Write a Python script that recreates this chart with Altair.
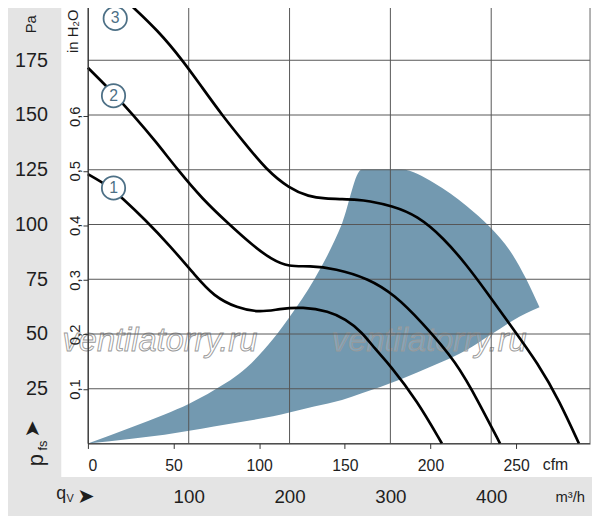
import altair as alt
import pandas as pd

# ---- data (x: air flow in m³/h, y: static pressure in Pa) ----
c1_q = [0, 20.5, 33.5, 56.4, 82.4, 106.6, 124.9, 147.7, 170.5, 190.0, 212.9, 238.9, 255.3, 271.9, 284.6,
        299.3, 326.7, 351.1]
c1_p = [123.0, 117.6, 112.3, 102.4, 89.8, 76.6, 67.2, 61.9, 59.8, 61.5, 62.4, 60.4, 56.8, 50.9, 43.2,
        36.0, 19.4, 0]
c2_q = [0, 22.5, 45.0, 67.5, 89.0, 113.4, 139.8, 162.3, 181.8, 199.5, 219.1, 245.5, 277.8, 304.2, 330.6, 365.8,
        389.2, 408.8]
c2_p = [171.6, 161.3, 150.0, 137.8, 125.0, 111.7, 100.2, 90.9, 84.1, 80.6, 81.2, 79.9, 75.4, 67.9, 55.7, 37.2,
        17.4, 0]
c3_q = [43.0, 69.4, 93.9, 113.4, 133.0, 154.5, 177.0, 199.5, 219.1, 235.7, 252.3, 268.0, 277.8, 301.2,
        326.7, 353.1, 375.6, 395.1, 414.7, 448.0, 467.5, 487.0]
c3_p = [200.0, 188.6, 175.0, 162.5, 150.0, 137.7, 125.0, 116.6, 112.7, 111.8, 111.6, 111.3, 110.8, 108.6,
        104.1, 93.7, 81.5, 69.4, 56.8, 35.6, 19.4, 0]

area_q = [0, 43.3, 76.0, 100.4, 124.9, 157.5, 183.6, 199.8, 224.3, 252.0, 271.6, 311.0, 343.3, 375.6, 399.0,
          421.5, 434.2, 447.9]
area_lo = [0, 2.2, 4.0, 5.8, 7.8, 10.3, 12.4, 14.2, 16.9, 19.9, 22.9, 29.5, 35.7, 42.7, 49.5, 56.2, 59.4, 62.2]
area_hi = [0, 7.4, 13.3, 18.2, 24.3, 34.7, 47.7, 57.7, 74.8, 100.3, 125.1, 125.1, 119.0, 108.5, 98.7, 86.0,
           75.6, 62.2]

lab_q = [25.4, 25.4, 27.1]
lab_p = [116.7, 158.8, 194.1]
lab_t = ["1", "2", "3"]

grid_q = [100, 200, 300, 400]
grid_p = [25, 50, 75, 100, 125, 150, 175]

pa_ticks = [25, 50, 75, 100, 125, 150, 175]
m3h_ticks = [100, 200, 300, 400]
cfm_ticks = [0, 50, 100, 150, 200, 250]
inh2o_ticks = [0.1, 0.2, 0.3, 0.4, 0.5, 0.6]

CFM = 1.69901      # m³/h per cfm
INH2O = 249.089    # Pa per inH2O

# ---- tables ----
rows = []
for name, qs, ps in (("1", c1_q, c1_p), ("2", c2_q, c2_p), ("3", c3_q, c3_p)):
    for q, p in zip(qs, ps):
        rows.append({"curve": name, "q": q, "p": p})
curves = pd.DataFrame(rows)
area_df = pd.DataFrame({"q": area_q, "lo": area_lo, "hi": area_hi})
labels = pd.DataFrame({"q": lab_q, "p": lab_p, "t": lab_t})
gq = pd.DataFrame({"q": grid_q})
gp = pd.DataFrame({"p": grid_p})
one = pd.DataFrame({"a": [0]})

FONT = "Liberation Sans, Arial, sans-serif"
TXT = "#1e1e1e"
W, H = 509, 444

sx = alt.Scale(domain=[0, 498], nice=False, zero=False)
sy = alt.Scale(domain=[0, 200], nice=False, zero=False)

white = alt.Chart(one).mark_rect(color="white").encode(
    x=alt.value(-27), x2=alt.value(W + 5), y=alt.value(-10), y2=alt.value(478))

area = alt.Chart(area_df).mark_area(color="#7399b0", interpolate="monotone").encode(
    x=alt.X("q:Q", scale=sx, axis=alt.Axis(
        orient="bottom", values=m3h_ticks, format="d", domain=False, ticks=False, grid=False,
        labelPadding=54, labelBaseline="middle", labelFont=FONT, labelFontSize=19,
        labelColor=TXT, title=None, zindex=1)),
    y=alt.Y("lo:Q", scale=sy, axis=alt.Axis(
        orient="left", values=[v * INH2O for v in inh2o_ticks],
        labelExpr="replace(format(datum.value/249.089, '.1f'), '.', ',')",
        domain=False, ticks=True, tickSize=5, tickColor="#333", grid=False,
        labelAngle=270, labelAlign="center", labelBaseline="middle", labelPadding=9,
        labelFont=FONT, labelFontSize=15, labelColor=TXT, title=None, zindex=1)),
    y2="hi:Q",
)

wm = alt.Chart(one).mark_text(
    text="ventilatorry.ru", font="Liberation Sans", fontStyle="italic", fontSize=33,
    fill="white", fillOpacity=0.15, stroke="#999999", strokeWidth=0.9)
wm1 = wm.encode(x=alt.value(73), y=alt.value(340))
wm2 = wm.encode(x=alt.value(346), y=alt.value(340))

vgrid = alt.Chart(gq).mark_rule(color="#555", strokeWidth=1).encode(
    x=alt.X("q:Q", scale=sx, axis=None))
hgrid = alt.Chart(gp).mark_rule(color="#555", strokeWidth=1).encode(
    y=alt.Y("p:Q", scale=sy, axis=None))
frame = alt.Chart(one).mark_rect(fillOpacity=0, stroke="#666", strokeWidth=1).encode(
    x=alt.value(0), x2=alt.value(W), y=alt.value(0), y2=alt.value(H))

lines = alt.Chart(curves).mark_line(color="black", strokeWidth=2.7, interpolate="basis").encode(
    x=alt.X("q:Q", scale=sx, axis=alt.Axis(
        orient="bottom", values=[v * CFM for v in cfm_ticks],
        labelExpr="format(datum.value/1.69901, '.0f')",
        domain=True, domainColor="#333", ticks=True, tickSize=5, tickColor="#333", grid=False,
        labelPadding=17, labelBaseline="middle", labelFont=FONT, labelFontSize=16,
        labelColor=TXT, title=None, zindex=1)),
    y=alt.Y("p:Q", scale=sy, axis=alt.Axis(
        orient="left", values=pa_ticks, domain=True, domainColor="#333", ticks=False, grid=False,
        labelPadding=41, labelFont=FONT, labelFontSize=20, labelColor=TXT, title=None, zindex=1)),
    detail="curve:N",
)

circ = alt.Chart(labels).mark_point(
    shape="circle", size=560, filled=True, fill="white", stroke="#4d7086", strokeWidth=1.8, opacity=1
).encode(x=alt.X("q:Q", scale=sx, axis=None), y=alt.Y("p:Q", scale=sy, axis=None))
ctext = alt.Chart(labels).mark_text(font=FONT, fontSize=16, color="#4d7086").encode(
    x=alt.X("q:Q", scale=sx, axis=None), y=alt.Y("p:Q", scale=sy, axis=None), text="t:N")


def txt(s, x, y, size, angle=0, font=FONT, **kw):
    props = dict(text=s, font=font, fontSize=size, color=TXT, align="center", baseline="middle")
    if angle:
        props["angle"] = angle
    props.update(kw)
    return alt.Chart(one).mark_text(**props).encode(x=alt.value(x), y=alt.value(y))


deco = [
    txt("Pa", -58, 19, 15, 270),
    txt("in H₂O", -15, 26, 15, 270),
    txt("cfm", 474, 466, 16),
    txt("m³/h", 489, 498, 15),
    txt("q", -27, 495, 18),
    txt("V", -18, 500, 11),
    txt("➤", -2, 498, 21, font="DejaVu Sans"),
    txt("p", -53, 461, 22, 270),
    txt("fs", -45, 446, 13, 270),
    txt("➤", -56, 429, 21, 270, font="DejaVu Sans"),
]

chart = alt.layer(
    white, area, wm1, wm2, vgrid, hgrid, frame, lines, circ, ctext, *deco
).resolve_axis(x="independent", y="independent").properties(
    width=W, height=H,
    padding={"left": 81, "top": -6, "right": 2, "bottom": 70},
    autosize=alt.AutoSizeParams(type="none"),
    background="#e4e4e4",
).configure_view(stroke=None)

chart.save("out.html", embed_options={"renderer": "svg", "actions": False})
